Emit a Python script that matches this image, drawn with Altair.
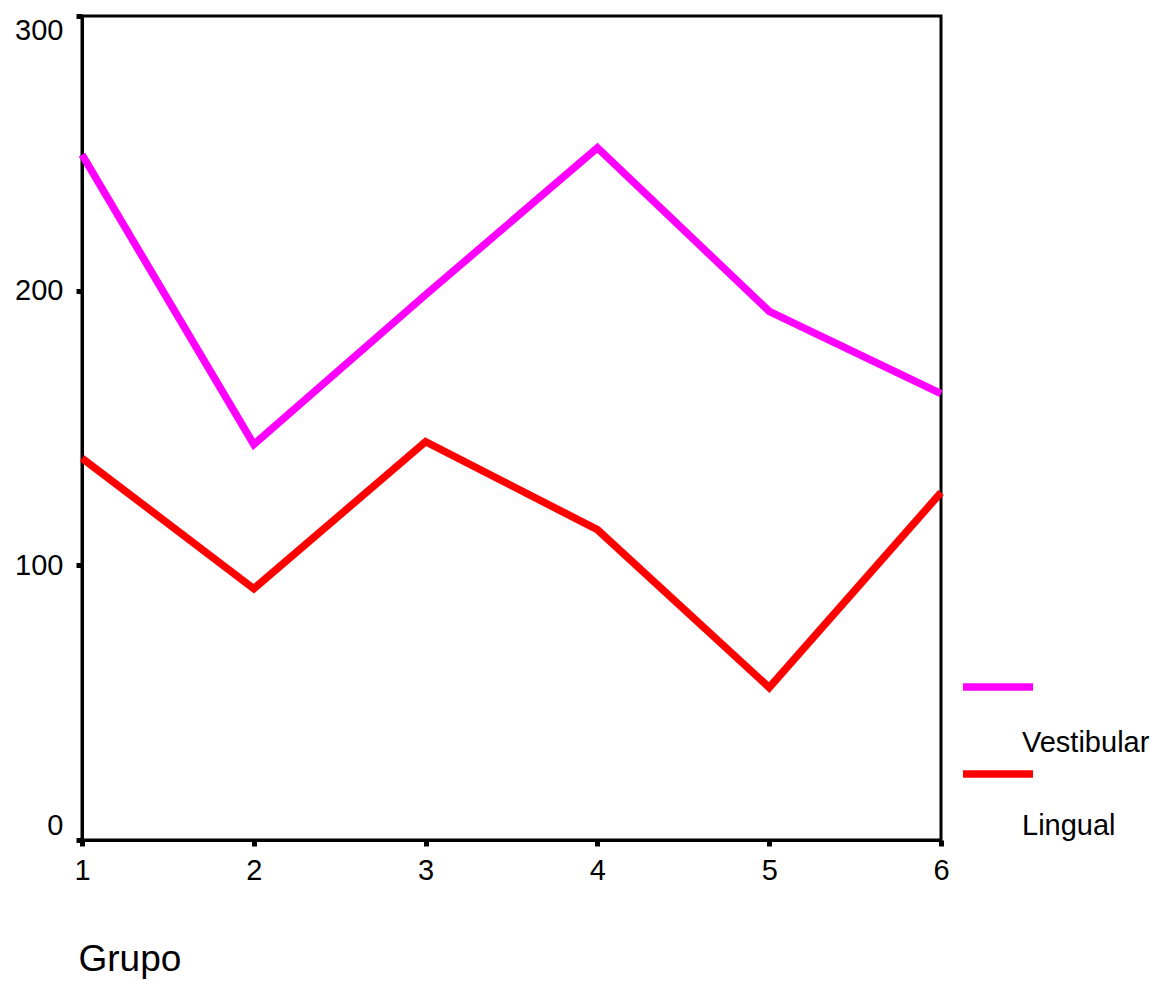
import altair as alt
import pandas as pd

groups = [1, 2, 3, 4, 5, 6]
vestibular = [249.5, 144, 198.5, 252, 192.5, 162.5]
lingual = [139, 91.5, 145, 113, 55.5, 126.5]
series = ["Vestibular", "Lingual"]
colors = ["#FF00FF", "#FF0000"]
y_ticks = [0, 100, 200, 300]

df = pd.DataFrame({
    "Grupo": groups * 2,
    "valor": vestibular + lingual,
    "serie": [series[0]] * len(groups) + [series[1]] * len(groups),
})

FONT = "Liberation Sans"

lines = alt.Chart(df).mark_line(strokeWidth=7.5, strokeJoin="miter", strokeCap="butt").encode(
    x=alt.X("Grupo:Q",
            scale=alt.Scale(domain=[1, 6], nice=False, zero=False),
            axis=alt.Axis(values=groups, format="d", grid=False,
                          domainColor="black", domainWidth=3,
                          tickColor="black", tickWidth=5, tickSize=6,
                          labelFontSize=29, labelColor="black", labelFont=FONT,
                          labelPadding=10, labelFlush=False,
                          title="Grupo", titleFontSize=37, titleFont=FONT,
                          titleFontWeight="normal", titleColor="black",
                          titleAnchor="start", titleAlign="left",
                          titleX=-4, titleY=119, titleBaseline="middle")),
    y=alt.Y("valor:Q",
            scale=alt.Scale(domain=[0, 300], nice=False),
            axis=alt.Axis(values=y_ticks, grid=False, title=None,
                          domainColor="black", domainWidth=3,
                          tickColor="black", tickWidth=5, tickSize=6,
                          labelFontSize=29, labelColor="black", labelFont=FONT,
                          labelPadding=13, labelFlush=True)),
    color=alt.Color("serie:N", scale=alt.Scale(domain=series, range=colors), legend=None),
    detail="serie:N",
)

legend_layers = []
rule_y = [671, 758]
text_y = [727, 810]
for i, name in enumerate(series):
    ldf = pd.DataFrame({"serie": [name]})
    legend_layers.append(
        alt.Chart(ldf).mark_rule(strokeWidth=7.5, color=colors[i], strokeCap="butt").encode(
            x=alt.value(881), x2=alt.value(951), y=alt.value(rule_y[i]))
    )
    legend_layers.append(
        alt.Chart(ldf).mark_text(align="left", baseline="middle", fontSize=29,
                                 font=FONT, color="black").encode(
            x=alt.value(940), y=alt.value(text_y[i]), text="serie:N")
    )

chart = alt.layer(lines, *legend_layers).properties(
    width=859, height=824,
    autosize=alt.AutoSizeParams(type="none"),
    padding={"left": 74, "top": 8, "right": 215, "bottom": 139},
    background="white",
).configure_view(stroke="black", strokeWidth=3)

chart.save("out.html", embed_options={"renderer": "svg", "actions": False})
